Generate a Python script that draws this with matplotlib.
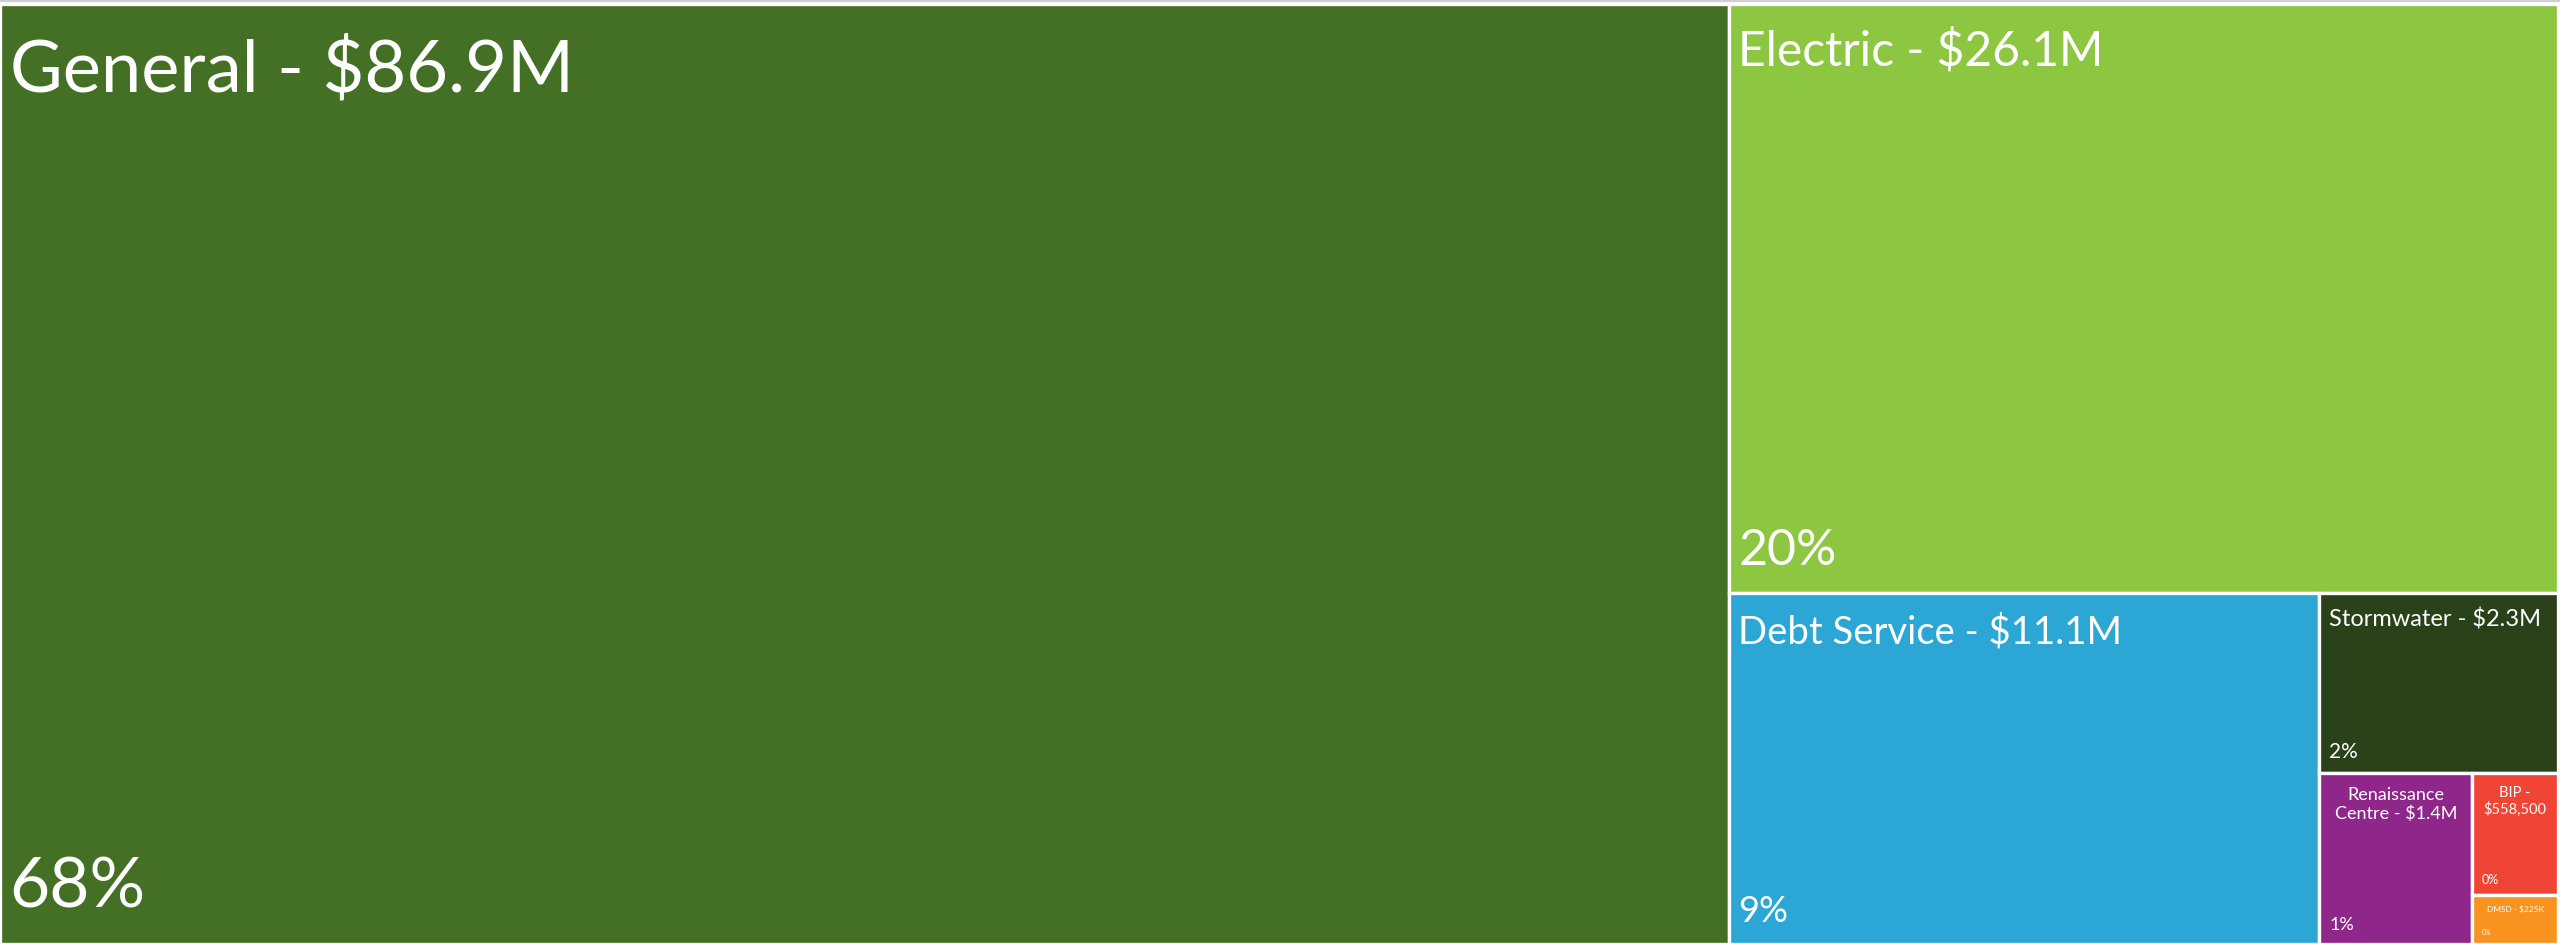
import matplotlib
matplotlib.use("Agg")
import matplotlib.pyplot as plt
from matplotlib.patches import Rectangle
from matplotlib.lines import Line2D

# fund budgets ($M)
funds = ["General", "Electric", "Debt Service", "Stormwater",
         "Renaissance Centre", "BIP", "DMSD"]
budget = [86.9, 26.1, 11.1, 2.3, 1.4, 0.5585, 0.225]
amount_labels = ["$86.9M", "$26.1M", "$11.1M", "$2.3M", "$1.4M", "$558,500", "$225K"]
colors = ["#447025", "#8dc641", "#2ca7d5", "#29421a", "#8f278a", "#f04535", "#f7931e"]

# text styling per tile
name_size = [52, 34.5, 27.5, 17, 13, 10.5, 6]
pct_size = [50, 36, 26, 15, 13, 9, 5]
centered = [False, False, False, False, True, True, True]
wrap_at = [None, None, None, None, "Centre", "$", None]


def worst_ratio(row, side):
    s = sum(row)
    return max(max(side * side * r / (s * s), (s * s) / (side * side * r)) for r in row)


def squarify(areas, x, y, w, h):
    # Bruls et al. squarified treemap, returns (x, y, w, h) per area
    rects = []
    areas = list(areas)
    while areas:
        side = min(w, h)
        row = [areas[0]]
        i = 1
        while i < len(areas) and worst_ratio(row + [areas[i]], side) <= worst_ratio(row, side):
            row.append(areas[i])
            i += 1
        areas = areas[i:]
        s = sum(row)
        if w >= h:
            cw = s / h
            cy = y
            for r in row:
                rh = r / cw
                rects.append((x, cy, cw, rh))
                cy += rh
            x += cw
            w -= cw
        else:
            rh = s / w
            cx = x
            for r in row:
                rw = r / rh
                rects.append((cx, y, rw, rh))
                cx += rw
            y += rh
            h -= rh
    return rects


W, H = 2560, 944
x0, y0, x1, y1 = 0, 4, W - 2, H
total = sum(budget)
areas = [v / total * (x1 - x0) * (y1 - y0) for v in budget]
rects = squarify(areas, x0, y0, x1 - x0, y1 - y0)

fig = plt.figure(figsize=(25.6, 9.44), dpi=100)
ax = fig.add_axes([0, 0, 1, 1])
ax.set_xlim(0, W)
ax.set_ylim(H, 0)
ax.axis("off")
plt.rcParams["font.family"] = ["Lato", "DejaVu Sans"]

for i, (x, y, w, h) in enumerate(rects):
    ax.add_patch(Rectangle((x, y), w, h, facecolor=colors[i],
                           edgecolor="white", linewidth=2.4))
    label = funds[i] + " - " + amount_labels[i]
    if wrap_at[i]:
        k = label.index(wrap_at[i])
        label = label[:k].rstrip() + "\n" + label[k:]
    fs = name_size[i]
    top_pad = 0.33 * fs + 6
    if centered[i]:
        ax.annotate(label, (x + w / 2, y), xytext=(0, -top_pad), textcoords="offset points",
                    ha="center", va="top", color="white", fontsize=fs,
                    linespacing=1.15)
    else:
        ax.annotate(label, (x, y), xytext=(7, -top_pad), textcoords="offset points",
                    ha="left", va="top", color="white", fontsize=fs)
    pct = "%d%%" % round(budget[i] / total * 100)
    ax.annotate(pct, (x, y + h), xytext=(7, 4 + 0.45 * pct_size[i]),
                textcoords="offset points", ha="left", va="baseline",
                color="white", fontsize=pct_size[i])

fig.add_artist(Line2D([0, 1], [0.999, 0.999], color="#cfcfcf", linewidth=1.5,
                      transform=fig.transFigure))

fig.savefig("out.png", dpi=100, facecolor="white")
